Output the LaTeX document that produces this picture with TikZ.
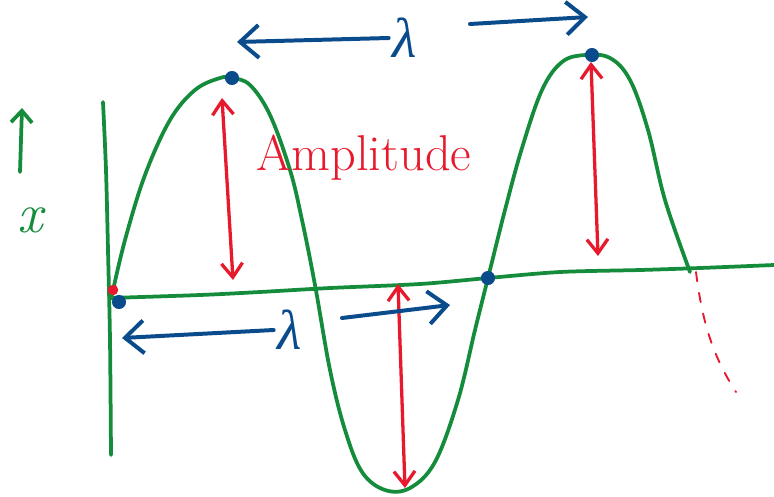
\documentclass[tikz,border=0pt]{standalone}
\usepackage{fontspec}
\newfontfamily\lamfont{Liberation Serif}
\usetikzlibrary{arrows.meta}
\definecolor{waveg}{RGB}{20,140,60}
\definecolor{ampred}{RGB}{230,25,45}
\definecolor{lenblue}{RGB}{10,75,140}
\begin{document}
\begin{tikzpicture}[x=0.03cm, y=-0.03cm, line cap=round, line join=round,
          wave/.style={draw=waveg, line width=3.2pt},
          amp/.style={draw=ampred, line width=2.8pt, {Straight Barb[length=12pt,width=18pt]}-{Straight Barb[length=12pt,width=18pt]}},
          len/.style={draw=lenblue, line width=3.4pt, -{Straight Barb[length=16pt,width=28pt]}},
          dot/.style={circle, fill=lenblue, inner sep=0pt, minimum size=12pt},
          rdot/.style={circle, fill=ampred, inner sep=0pt, minimum size=9pt},
          lam/.style={text=lenblue, font=\lamfont\itshape\fontsize{48}{48}\selectfont},
          varlab/.style={text=waveg, font=\itshape\fontsize{48}{48}\selectfont},
          amplab/.style={text=ampred, font=\fontsize{43}{45}\selectfont}]
        \useasboundingbox (0,0) rectangle (774,496);
        \draw[wave] plot[smooth] coordinates {(103,102) (106,170) (108,250) (110,340) (111,455)};
        \draw[wave] plot[smooth] coordinates {(110,298) (200,295) (260,292) (330,288) (420,284) (488,278) (560,272) (640,270) (700,268) (774,265)};
        \draw[wave] plot[smooth, tension=0.6] coordinates {(112,295) (125,240) (145,175) (170,120) (195,90) (220,78) (232,78) (250,85) (270,115) (290,170) (302,220) (315,285) (330,370) (345,430) (362,472) (385,490) (410,488) (435,462) (458,400) (475,330) (488,278) (505,210) (522,148) (542,90) (562,62) (585,55) (610,58) (630,80) (648,130) (665,200) (690,272)};
        \draw[ampred, line width=1.6pt, dash pattern=on 8pt off 10pt] (696,272) .. controls (702,320) and (712,355) .. (736,392);
        \node[varlab] (x) at (30,220) {x};
        \coordinate (xs) at (20,172);
        \coordinate (xe) at (22,108);
        \draw[wave, -{Straight Barb[length=10pt,width=18pt]}] (xs) -- (xe);
        \node[amplab] (amp) at (364,158) {Amplitude};
        \coordinate (a1t) at (222,98);
        \coordinate (a1b) at (233,280);
        \coordinate (a2t) at (398,284);
        \coordinate (a2b) at (405,488);
        \coordinate (a3t) at (591,62);
        \coordinate (a3b) at (598,256);
        \draw[amp] (a1t) -- (a1b);
        \draw[amp] (a2t) -- (a2b);
        \draw[amp] (a3t) -- (a3b);
        \node[rdot] (r0) at (113,290) {};
        \node[dot] (o) at (119,302) {};
        \node[dot] (p1) at (232,78) {};
        \node[dot] (z) at (488,278) {};
        \node[dot] (p2) at (592,55) {};
        \node[lam] (l1) at (405,38) {λ};
        \node[lam] (l2) at (290,330) {λ};
        \coordinate (l1a) at (237,42);
        \coordinate (l1s) at (470,24);
        \coordinate (l1b) at (588,17);
        \coordinate (l2a) at (122,338);
        \coordinate (l2s) at (342,318);
        \coordinate (l2b) at (450,305);
        \draw[len] (l1.west) -- (l1a);
        \draw[len] (l1s) -- (l1b);
        \draw[len] (l2.west) -- (l2a);
        \draw[len] (l2s) -- (l2b);
      \end{tikzpicture}
\end{document}
